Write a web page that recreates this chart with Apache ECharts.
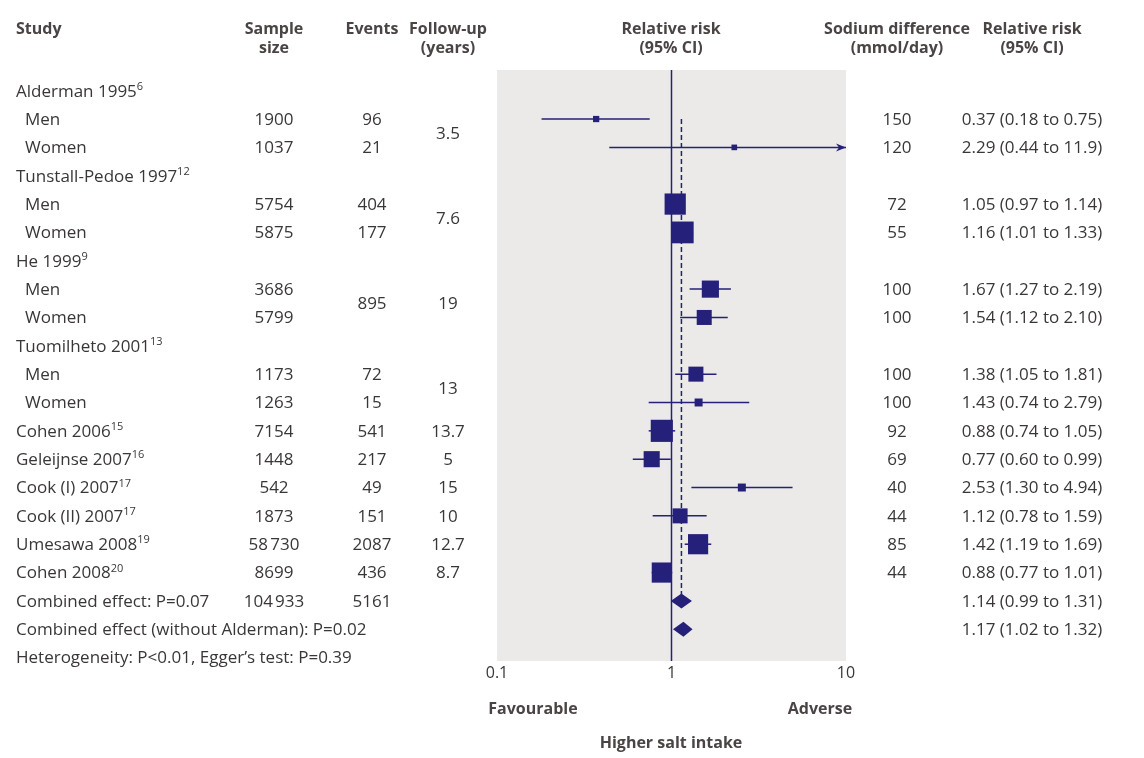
<!DOCTYPE html>
<html><head><meta charset="utf-8">
<script src="https://cdn.jsdelivr.net/npm/echarts@6/dist/echarts.min.js"></script>
<style>html,body{margin:0;padding:0;background:#fff}#c{width:1144px;height:758px}</style>
</head><body><div id="c"></div>
<script>
// ---------------- data ----------------
const studyLabels = ['Alderman 1995','Men','Women','Tunstall-Pedoe 1997','Men','Women','He 1999','Men','Women',
  'Tuomilheto 2001','Men','Women','Cohen 2006','Geleijnse 2007','Cook (I) 2007','Cook (II) 2007','Umesawa 2008',
  'Cohen 2008','Combined effect: P=0.07','Combined effect (without Alderman): P=0.02','Heterogeneity: P<0.01, Egger\u2019s test: P=0.39'];
const studyRefs = ['6','','','12','','','9','','','13','','','15','16','17','17','19','20','','',''];
const studyIndent = [0,1,1,0,1,1,0,1,1,0,1,1,0,0,0,0,0,0,0,0,0];
const sampleSize = ['','1900','1037','','5754','5875','','3686','5799','','1173','1263','7154','1448','542','1873','58\u202F730','8699','104\u202F933','',''];
const eventRows = [1,2,4,5,7.5,10,11,12,13,14,15,16,17,18];
const events = ['96','21','404','177','895','72','15','541','217','49','151','2087','436','5161'];
const followRows = [1.5,4.5,7.5,10.5,12,13,14,15,16,17];
const followUp = ['3.5','7.6','19','13','13.7','5','15','10','12.7','8.7'];
const sodium = ['','150','120','','72','55','','100','100','','100','100','92','69','40','44','85','44','','',''];
const rr  = [null,0.37,2.29,null,1.05,1.16,null,1.67,1.54,null,1.38,1.43,0.88,0.77,2.53,1.12,1.42,0.88,1.14,1.17,null];
const rrLo = [null,0.18,0.44,null,0.97,1.01,null,1.27,1.12,null,1.05,0.74,0.74,0.60,1.30,0.78,1.19,0.77,0.99,1.02,null];
const rrHi = [null,0.75,11.9,null,1.14,1.33,null,2.19,2.10,null,1.81,2.79,1.05,0.99,4.94,1.59,1.69,1.01,1.31,1.32,null];
const weight = [null,0.8,0.65,null,9.2,9.7,null,6.0,4.6,null,4.6,1.3,10,5.3,1.3,4.6,8.3,8.3,null,null,null];
const isPooled = [0,0,0,0,0,0,0,0,0,0,0,0,0,0,0,0,0,0,1,1,0];
const pooledRR = 1.14;
const xTickLabels = ['0.1','1','10'];

// ---------------- style ----------------
const NAVY = '#252079';
const TXT = '#3a3636';
const HDR = '#4a4444';
const FONT = '"Open Sans", "Noto Sans", sans-serif';
const FS = 17;
const HFS = 16;
const col = {study:16, indent:25, sample:274, events:372, follow:448, sodium:897, rrText:1032};
const X_MIN = 0.1, X_MAX = 10;

function fmt(v){ return v >= 10 ? v.toFixed(1) : v.toFixed(2); }

// cells of the table
const cells = [];
studyLabels.forEach((s,i)=>{
  const txt = studyRefs[i] ? '{a|'+s+'}{s|'+studyRefs[i]+'}' : '{a|'+s+'}';
  cells.push({row:i, x: studyIndent[i] ? col.indent : col.study, align:'left', text: txt, rich:true});
});
sampleSize.forEach((v,i)=>{ if(v) cells.push({row:i, x:col.sample, align:'center', text:v}); });
events.forEach((v,k)=>cells.push({row:eventRows[k], x:col.events, align:'center', text:v}));
followUp.forEach((v,k)=>cells.push({row:followRows[k], x:col.follow, align:'center', text:v}));
sodium.forEach((v,i)=>{ if(v) cells.push({row:i, x:col.sodium, align:'center', text:v}); });
rr.forEach((v,i)=>{ if(v!=null) cells.push({row:i, x:col.rrText, align:'center', text: fmt(v)+' ('+fmt(rrLo[i])+' to '+fmt(rrHi[i])+')'}); });

const markerData = [];
rr.forEach((v,i)=>{ if(v!=null) markerData.push([v, i, rrLo[i], rrHi[i], weight[i]||0, isPooled[i]]); });

const chart = echarts.init(document.getElementById('c'), null, {renderer:'canvas'});

function txtStyle(text, align, extra){
  return Object.assign({text, fill:TXT, fontSize:FS, fontFamily:FONT, align, verticalAlign:'middle',
    textAlign:align, textVerticalAlign:'middle'}, extra||{});
}
function hdr(x, y, text, align){
  return {type:'text', x, y, style:{text, fill:HDR, font:'bold '+HFS+'px '+FONT, align:align||'center', textAlign:align||'center', lineHeight:19}};
}

const option = {
  animation:false,
  backgroundColor:'#ffffff',
  grid:{left:497, right:298, top:70, bottom:97, show:true, backgroundColor:'#EBEAE8', borderWidth:0},
  xAxis:{type:'log', logBase:10, min:X_MIN, max:X_MAX,
    axisLine:{show:false}, axisTick:{show:false}, splitLine:{show:false}, minorTick:{show:false},
    axisLabel:{show:true, color:TXT, fontSize:16, fontFamily:FONT, margin:4,
      formatter:(v)=>{ const l = Math.round(Math.log10(v)); return xTickLabels[l+1] || ''; }}},
  yAxis:{type:'value', inverse:true, min:-0.73, max:20.12, show:false},
  graphic:[
    hdr(16, 20, 'Study', 'left'),
    hdr(274, 20, 'Sample\nsize'),
    hdr(372, 20, 'Events'),
    hdr(448, 20, 'Follow-up\n(years)'),
    hdr(671, 20, 'Relative risk\n(95% CI)'),
    hdr(897, 20, 'Sodium difference\n(mmol/day)'),
    hdr(1032, 20, 'Relative risk\n(95% CI)'),
    hdr(533, 700, 'Favourable'),
    hdr(820, 700, 'Adverse'),
    hdr(671, 734, 'Higher salt intake')
  ],
  series:[
    { // reference line at RR = 1
      type:'custom', coordinateSystem:'cartesian2d', clip:false, silent:true,
      data:[[1, 0]],
      renderItem:(params, api)=>{
        const cs = params.coordSys; const p = api.coord([api.value(0), 0]);
        return {type:'line', shape:{x1:p[0], y1:cs.y, x2:p[0], y2:cs.y+cs.height}, style:{stroke:NAVY, lineWidth:1.5}};
      }
    },
    { // dashed line at pooled estimate
      type:'custom', coordinateSystem:'cartesian2d', clip:false, silent:true,
      data:[[pooledRR, 1, 18]],
      renderItem:(params, api)=>{
        const a = api.coord([api.value(0), api.value(1)]);
        const b = api.coord([api.value(0), api.value(2)]);
        return {type:'line', shape:{x1:a[0], y1:a[1], x2:b[0], y2:b[1]-7}, style:{stroke:NAVY, lineWidth:1.5, lineDash:[5,3]}};
      }
    },
    { // markers
      type:'custom', coordinateSystem:'cartesian2d', clip:false, silent:true,
      data: markerData,
      renderItem:(params, api)=>{
        const est = api.value(0), row = api.value(1), lo = api.value(2), hi = api.value(3), w = api.value(4), pooled = api.value(5);
        const c = api.coord([est, row]);
        const hiC = Math.min(hi, X_MAX);
        const pl = api.coord([lo, row]), ph = api.coord([hiC, row]);
        const ch = [];
        if (pooled) {
          const hh = 7.5;
          ch.push({type:'polygon', shape:{points:[[pl[0],c[1]],[c[0],c[1]-hh],[ph[0],c[1]],[c[0],c[1]+hh]]}, style:{fill:NAVY}});
        } else {
          ch.push({type:'line', shape:{x1:pl[0], y1:c[1], x2:ph[0], y2:c[1]}, style:{stroke:NAVY, lineWidth:1.5}});
          if (hi > X_MAX) {
            ch.push({type:'polygon', shape:{points:[[ph[0],c[1]],[ph[0]-10,c[1]-4],[ph[0]-7,c[1]],[ph[0]-10,c[1]+4]]}, style:{fill:NAVY}});
          }
          const s = 7*Math.sqrt(w);
          ch.push({type:'rect', shape:{x:c[0]-s/2, y:c[1]-s/2, width:s, height:s}, style:{fill:NAVY}});
        }
        return {type:'group', children:ch};
      }
    },
    { // table text
      type:'custom', coordinateSystem:'cartesian2d', clip:false, silent:true,
      data: cells.map((c,k)=>[1, c.row, k]),
      renderItem:(params, api)=>{
        const cell = cells[api.value(2)];
        const y = api.coord([1, api.value(1)])[1] + 1;
        const extra = cell.rich ? {rich:{a:{fontSize:FS, fontFamily:FONT, fill:TXT, color:TXT, lineHeight:21},
                                        s:{fontSize:11, fontFamily:FONT, fill:TXT, color:TXT, lineHeight:11, verticalAlign:'top'}}} : {};
        return {type:'text', x:cell.x, y:y, style:txtStyle(cell.text, cell.align, extra)};
      }
    }
  ]
};
chart.setOption(option);
</script>
</body></html>
